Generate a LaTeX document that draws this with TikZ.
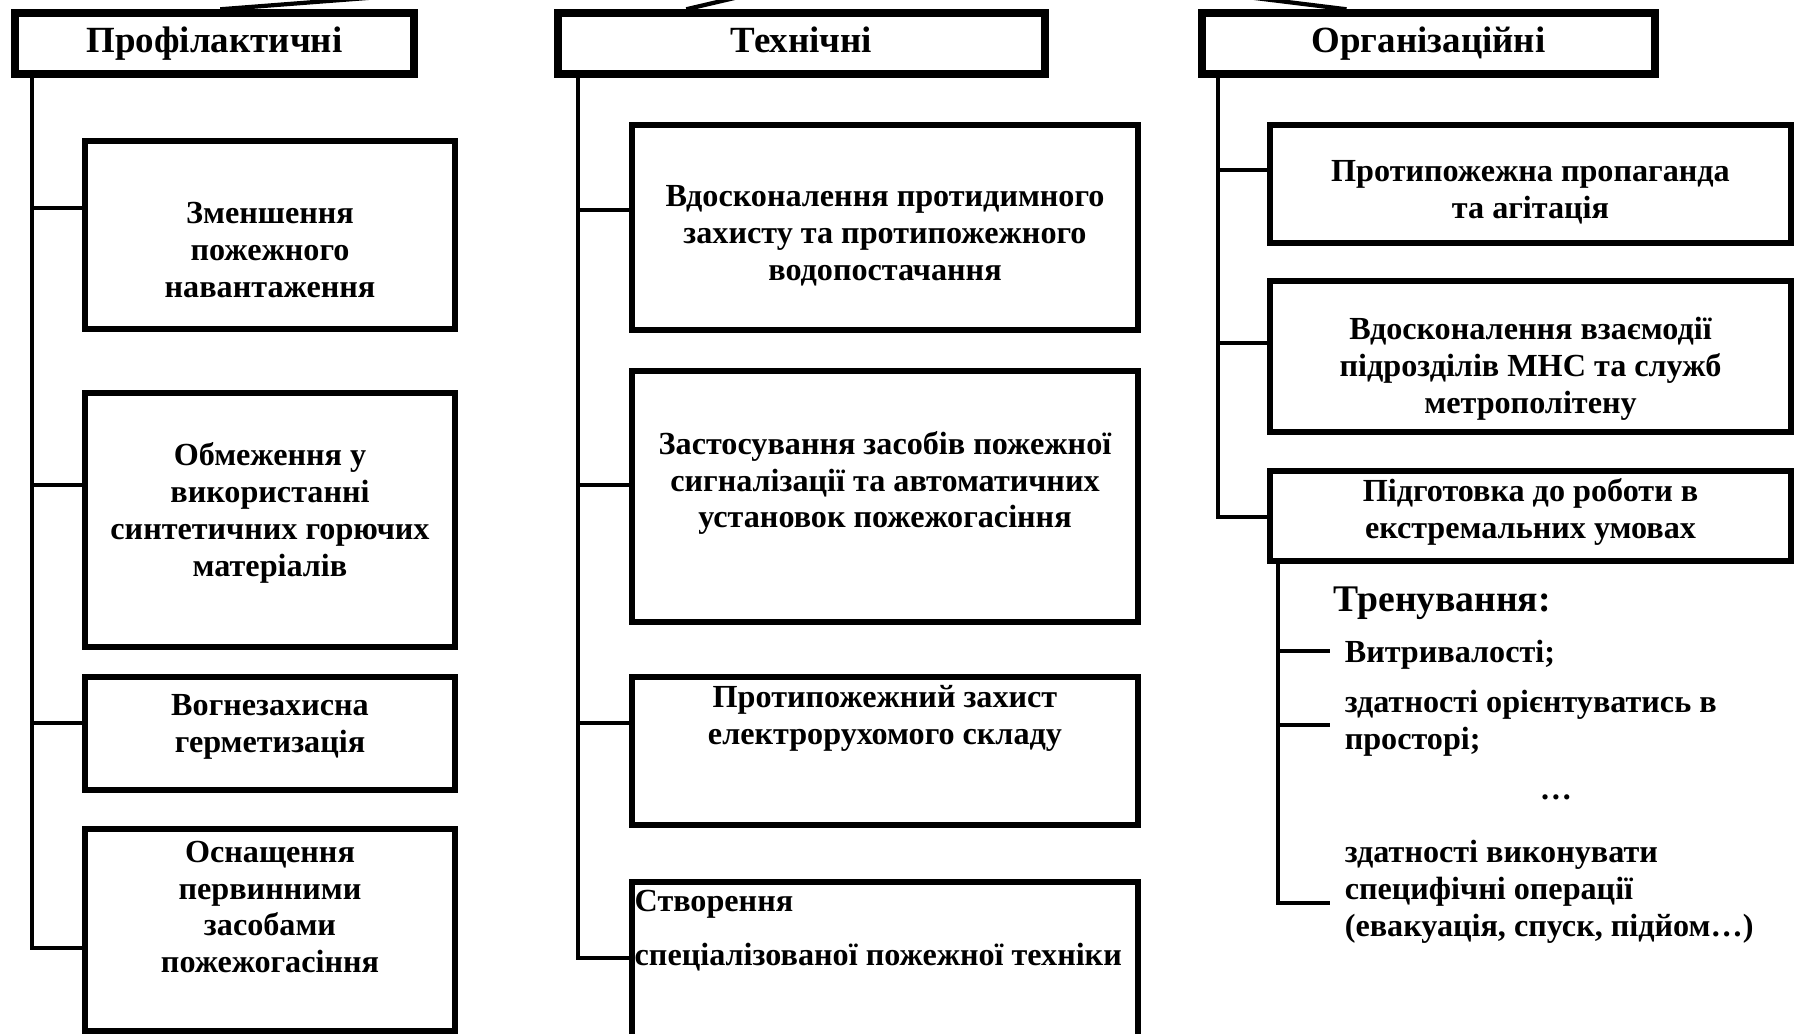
\documentclass[tikz,border=0pt]{standalone}
\usepackage{fontspec}
\setmainfont{Liberation Serif}
\usetikzlibrary{calc}

\begin{document}
\begin{tikzpicture}[x=0.01cm,y=-0.01cm,
  head/.style={draw,line width=2.1pt,inner sep=0pt,text height=0.72em,text depth=0.22em,
    font=\fontsize{10.5}{12}\selectfont\bfseries},
  box/.style={draw,line width=1.7pt,inner sep=0pt},
  txt/.style={align=center,inner sep=0pt,font=\fontsize{9.15}{10.5}\selectfont\bfseries},
  item/.style={anchor=west,align=left,inner xsep=4pt,inner ysep=0pt,font=\fontsize{9.15}{10.5}\selectfont\bfseries},
  conn/.style={line width=1.1pt},
  link/.style={line width=1.2pt}]

  \useasboundingbox (0,0) rectangle (1794,1034);
  \clip (0,0) rectangle (1794,1034);

  % groups
  \node[head,minimum width=3.99cm,minimum height=0.61cm] (h1) at (214.5,43.5) {Профілактичні};
  \node[head,minimum width=4.87cm,minimum height=0.61cm] (h2) at (801.5,43.5) {Технічні};
  \node[head,minimum width=4.53cm,minimum height=0.61cm] (h3) at (1428.5,43.5) {Організаційні};

  % links up to the (cut off) root
  \coordinate (root) at (914,-44);
  \draw[link] (root) -- ($(h1.north west)!.514!(h1.north east)$);
  \draw[link] (root) -- ($(h2.north west)!.267!(h2.north east)$);
  \draw[link] (root) -- ($(h3.north west)!.322!(h3.north east)$);

  % first column
  \node[box,minimum width=3.70cm,minimum height=1.88cm] (b11) at (270,235) {};
  \node[box,minimum width=3.70cm,minimum height=2.54cm] (b12) at (270,520) {};
  \node[box,minimum width=3.70cm,minimum height=1.13cm] (b13) at (270,733.5) {};
  \node[box,minimum width=3.70cm,minimum height=2.02cm] (b14) at (270,930) {};
  \node[txt] (t11) at (270,250) {Зменшення\\пожежного\\навантаження};
  \node[txt] (t12) at (270,513) {Обмеження у\\використанні\\синтетичних горючих\\матеріалів};
  \node[txt] (t13) at (270,727) {Вогнезахисна\\герметизація};
  \node[txt] (t14) at (270,907) {Оснащення\\первинними\\засобами\\пожежогасіння};

  % second column
  \node[box,minimum width=5.06cm,minimum height=2.05cm] (b21) at (885,227.5) {};
  \node[box,minimum width=5.06cm,minimum height=2.51cm] (b22) at (885,496.5) {};
  \node[box,minimum width=5.06cm,minimum height=1.48cm] (b23) at (885,751) {};
  \node[box,minimum width=5.06cm,minimum height=1.63cm] (b24) at (885,963.5) {};
  \node[txt] (t21) at (885,236) {Вдосконалення протидимного\\захисту та протипожежного\\водопостачання};
  \node[txt] (t22) at (885,483) {Застосування засобів пожежної\\сигналізації та автоматичних\\установок пожежогасіння};
  \node[txt] (t23) at (885,718) {Протипожежний захист\\електрорухомого складу};
  \node[txt,align=left,anchor=west] (t24) at (634,931) {Створення\\[4.9pt]спеціалізованої пожежної техніки};

  % third column
  \node[box,minimum width=5.21cm,minimum height=1.18cm] (b31) at (1530.5,184) {};
  \node[box,minimum width=5.21cm,minimum height=1.51cm] (b32) at (1530.5,356.5) {};
  \node[box,minimum width=5.21cm,minimum height=0.90cm] (b33) at (1530.5,516) {};
  \node[txt] (t31) at (1530.5,192) {Протипожежна пропаганда\\та агітація};
  \node[txt] (t32) at (1530.5,369) {Вдосконалення взаємодії\\підрозділів МНС та служб\\метрополітену};
  \node[txt] (t33) at (1530.5,512) {Підготовка до роботи в\\екстремальних умовах};

  % training list
  \node[txt,anchor=west,font=\fontsize{10.7}{12}\selectfont\bfseries] (tr) at (1333,603) {Тренування:};
  \node[item] (it1) at (1330,655) {Витривалості;};
  \node[item] (it2) at (1330,723) {здатності орієнтуватись в\\просторі;};
  \node[txt] (dots) at (1556,797) {…};
  \node[item] (it3) at (1330,892) {здатності виконувати\\специфічні операції\\(евакуація, спуск, підйом…)};

  % stems
  \coordinate (j11) at (32,208);
  \coordinate (j12) at (32,485);
  \coordinate (j13) at (32,723);
  \coordinate (j14) at (32,948);
  \coordinate (j21) at (578,210);
  \coordinate (j22) at (578,485);
  \coordinate (j23) at (578,723);
  \coordinate (j24) at (578,958);
  \coordinate (j31) at (1218,170);
  \coordinate (j32) at (1218,343);
  \coordinate (j33) at (1218,517);
  \coordinate (k1) at (1278,651);
  \coordinate (k2) at (1278,725);
  \coordinate (k3) at (1278,903);

  \draw[conn] (h1.south -| j14) -- (j14) -- (j14 -| b14.west);
  \draw[conn] (h2.south -| j24) -- (j24) -- (j24 -| b24.west);
  \draw[conn] (h3.south -| j33) -- (j33) -- (j33 -| b33.west);
  \foreach \n in {11,12,13,21,22,23,31,32}
    \draw[conn] (j\n) -- (j\n -| b\n.west);

  \draw[conn] (b33.south -| k3) -- (k3) -- (k3 -| it3.west);
  \draw[conn] (k1) -- (k1 -| it1.west);
  \draw[conn] (k2) -- (k2 -| it2.west);
\end{tikzpicture}
\end{document}
